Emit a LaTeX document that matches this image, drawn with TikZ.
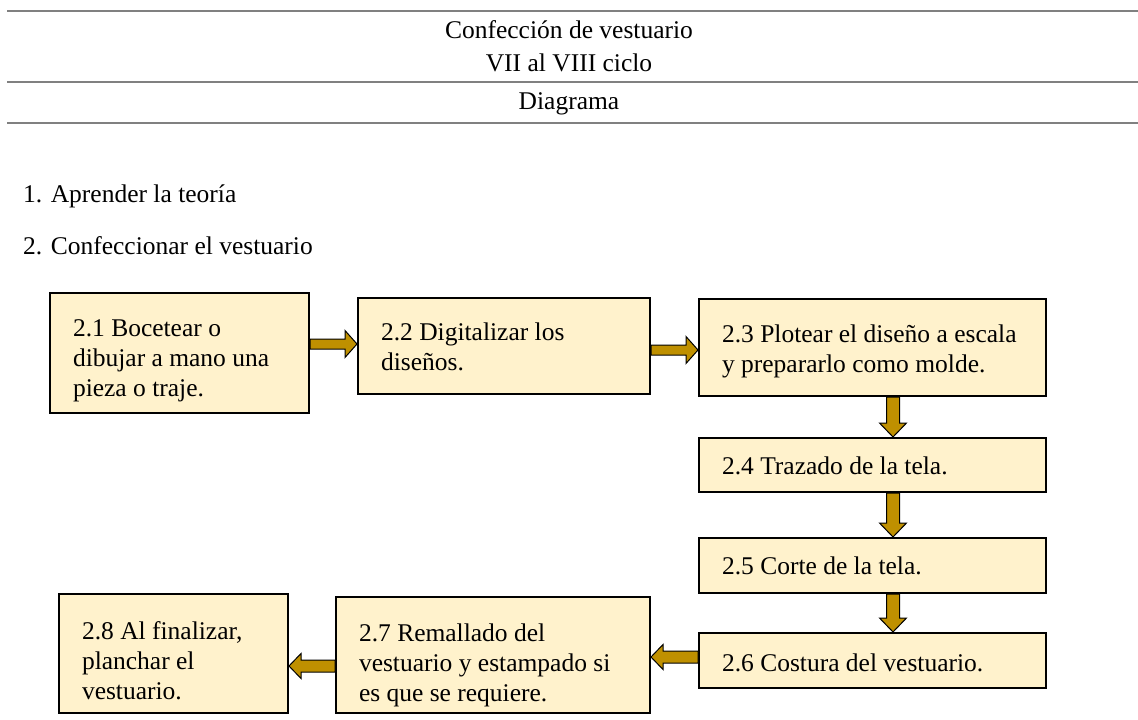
\documentclass[tikz,border=0pt]{standalone}
\usepackage{fontspec}
\setmainfont{Liberation Serif}
\usetikzlibrary{calc}
\definecolor{boxfill}{HTML}{FFF2CC}
\definecolor{arrowfill}{HTML}{BF9000}
\definecolor{rulegray}{HTML}{808080}
\newcommand\txtfont{\fontsize{25.5}{30}\selectfont}
\tikzset{
  box/.style={draw=black, line width=2pt, fill=boxfill, inner xsep=23pt, inner ysep=0pt,
    anchor=north west, font=\txtfont},
  plain/.style={inner sep=0pt, font=\txtfont},
  hrule/.style={draw=rulegray, line width=1.5pt},
  garrow/.style={draw=black, line width=1pt, fill=arrowfill, line join=miter},
}
% block arrows between named points
\newcommand\garR[2]{\draw[garrow] let \p1=(#1), \p2=(#2) in
  (\x1,\y1+5pt) -- (\x2-12pt,\y1+5pt) -- (\x2-12pt,\y1+13.5pt) -- (\x2,\y1)
  -- (\x2-12pt,\y1-13.5pt) -- (\x2-12pt,\y1-5pt) -- (\x1,\y1-5pt) -- cycle;}
\newcommand\garL[2]{\draw[garrow] let \p1=(#1), \p2=(#2) in
  (\x1,\y1+6pt) -- (\x2+12pt,\y1+6pt) -- (\x2+12pt,\y1+12.5pt) -- (\x2,\y1)
  -- (\x2+12pt,\y1-12.5pt) -- (\x2+12pt,\y1-6pt) -- (\x1,\y1-6pt) -- cycle;}
\newcommand\garD[2]{\draw[garrow] let \p1=(#1), \p2=(#2) in
  (\x1-6.5pt,\y1) -- (\x1-6.5pt,\y2+14pt) -- (\x1-13.5pt,\y2+14pt) -- (\x1,\y2)
  -- (\x1+13.5pt,\y2+14pt) -- (\x1+6.5pt,\y2+14pt) -- (\x1+6.5pt,\y1) -- cycle;}
\begin{document}
\begin{tikzpicture}[x=1pt,y=-1pt]
\useasboundingbox (0,0) rectangle (1138,720);

% header
\draw[hrule] (7,11) -- (1138,11);
\draw[hrule] (7,82) -- (1138,82);
\draw[hrule] (7,123) -- (1138,123);
\node[plain, anchor=base] (h1) at (569,38) {Confección de vestuario};
\node[plain, anchor=base] (h2) at (569,71) {VII al VIII ciclo};
\node[plain, anchor=base] (h3) at (569,109) {Diagrama};

% list
\node[plain, anchor=base west] (l1) at (23,202) {1. Aprender la teoría};
\node[plain, anchor=base west] (l2) at (23,254) {2. Confeccionar el vestuario};

% boxes
\node[box, text height=43pt, text depth=77pt] (b1) at (49,292)
  {\parbox[t]{213pt}{2.1 Bocetear o\\dibujar a mano una\\pieza o traje.}};
\node[box, text height=42pt, text depth=54pt] (b2) at (357,297)
  {\parbox[t]{246pt}{2.2 Digitalizar los\\diseños.}};
\node[box, text height=43pt, text depth=54pt] (b3) at (698,298)
  {\parbox[t]{301pt}{2.3 Plotear el diseño a escala\\y prepararlo como molde.}};
\node[box, text height=36pt, text depth=18pt] (b4) at (698,437)
  {\parbox[t]{301pt}{2.4 Trazado de la tela.}};
\node[box, text height=36pt, text depth=19pt] (b5) at (698,537)
  {\parbox[t]{301pt}{2.5 Corte de la tela.}};
\node[box, text height=38pt, text depth=17pt] (b6) at (698,632)
  {\parbox[t]{301pt}{2.6 Costura del vestuario.}};
\node[box, text height=44pt, text depth=72pt] (b7) at (335,596)
  {\parbox[t]{268pt}{2.7 Remallado del\\vestuario y estampado si\\es que se requiere.}};
\node[box, text height=45pt, text depth=74pt] (b8) at (58,593)
  {\parbox[t]{183pt}{2.8 Al finalizar,\\planchar el\\vestuario.}};

% arrow anchor levels
\coordinate (ya1) at (0,344);
\coordinate (ya2) at (0,350);
\coordinate (ya6) at (0,657);
\coordinate (ya7) at (0,666);
\coordinate (xd) at (893,0);

\coordinate (a1s) at (b1.east |- ya1);
\coordinate (a1e) at (b2.west |- ya1);
\coordinate (a2s) at (b2.east |- ya2);
\coordinate (a2e) at (b3.west |- ya2);
\coordinate (a3s) at (b3.south -| xd);
\coordinate (a3e) at (b4.north -| xd);
\coordinate (a4s) at (b4.south -| xd);
\coordinate (a4e) at (b5.north -| xd);
\coordinate (a5s) at (b5.south -| xd);
\coordinate (a5e) at (b6.north -| xd);
\coordinate (a6s) at (b6.west |- ya6);
\coordinate (a6e) at (b7.east |- ya6);
\coordinate (a7s) at (b7.west |- ya7);
\coordinate (a7e) at (b8.east |- ya7);

\garR{a1s}{a1e}
\garR{a2s}{a2e}
\garD{a3s}{a3e}
\garD{a4s}{a4e}
\garD{a5s}{a5e}
\garL{a6s}{a6e}
\garL{a7s}{a7e}
\end{tikzpicture}
\end{document}
